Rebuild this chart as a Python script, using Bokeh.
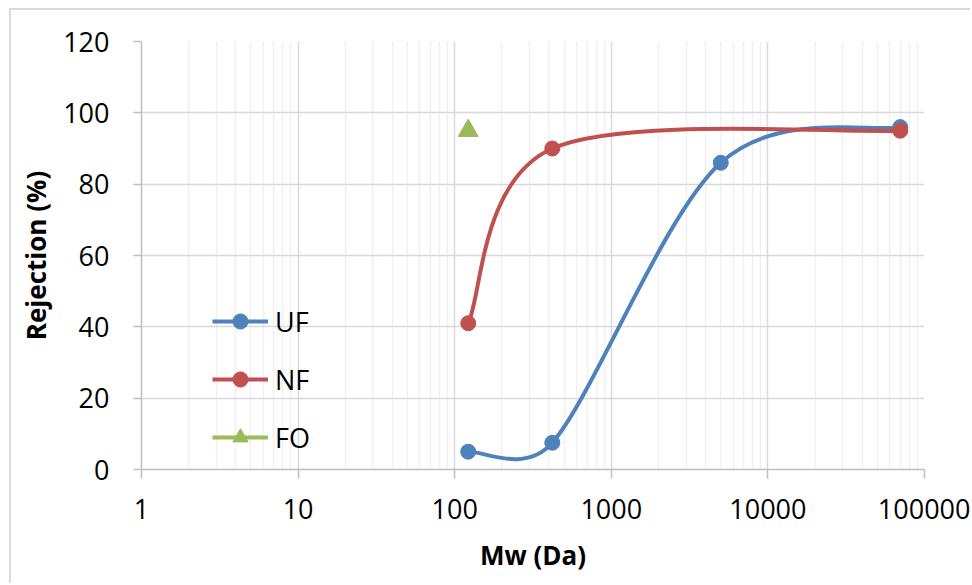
import numpy as np
from bokeh.plotting import figure
from bokeh.models import (ColumnDataSource, FixedTicker, Legend, LegendItem, Range1d)
from bokeh.embed import file_html
from bokeh.resources import INLINE

# ---- data ----
uf_mw = [122, 420, 5000, 70000]
uf_rej = [5, 7.5, 86, 96]
nf_mw = [122, 420, 70000]
nf_rej = [41, 90, 95]
fo_mw = [122]
fo_rej = [95]

x_ticks = [1, 10, 100, 1000, 10000, 100000]
x_tick_labels = ["1", "10", "100", "1000", "10000", "100000"]
y_ticks = [0, 20, 40, 60, 80, 100, 120]

C_UF = "#4f81bd"
C_NF = "#c0504d"
C_FO = "#9bbb59"
FONT = "Open Sans"

# approximate screen scale of the plot frame (for Excel-like arm clamping)
PX_PER_DECADE = 156.7
PX_PER_UNIT = 3.567


def smooth_source(xs, ys):
    """Excel-like smoothed line: cubic Bezier control points (Catmull-Rom, 1/6,
    arm limited to half the segment) computed in log-x / linear-y space."""
    lx = np.log10(np.asarray(xs, dtype=float))
    y = np.asarray(ys, dtype=float)
    n = len(lx)

    def dist(i, j):
        return np.hypot((lx[j] - lx[i]) * PX_PER_DECADE, (y[j] - y[i]) * PX_PER_UNIT)

    d = dict(x0=[], y0=[], x1=[], y1=[], cx0=[], cy0=[], cx1=[], cy1=[])
    for i in range(n - 1):
        a = i - 1 if i > 0 else i
        b = i + 2 if i + 2 < n else i + 1
        seg = dist(i, i + 1)
        f1 = 1 / 6
        arm1 = dist(a, i + 1) / 6
        if arm1 > seg / 2:
            f1 = f1 * (seg / 2) / arm1
        f2 = 1 / 6
        arm2 = dist(i, b) / 6
        if arm2 > seg / 2:
            f2 = f2 * (seg / 2) / arm2
        c1x = lx[i] + (lx[i + 1] - lx[a]) * f1
        c1y = y[i] + (y[i + 1] - y[a]) * f1
        c2x = lx[i + 1] - (lx[b] - lx[i]) * f2
        c2y = y[i + 1] - (y[b] - y[i]) * f2
        d["x0"].append(10 ** lx[i]); d["y0"].append(y[i])
        d["x1"].append(10 ** lx[i + 1]); d["y1"].append(y[i + 1])
        d["cx0"].append(10 ** c1x); d["cy0"].append(c1y)
        d["cx1"].append(10 ** c2x); d["cy1"].append(c2y)
    return ColumnDataSource(d)


p = figure(width=961, height=575, x_axis_type="log",
           x_range=Range1d(1, 100000), y_range=Range1d(0, 120),
           output_backend="svg", toolbar_location=None,
           min_border_left=130, min_border_right=48,
           min_border_top=31, min_border_bottom=116)
p.outline_line_color = None
p.background_fill_color = "white"
p.border_fill_color = "white"
# chart-area border (left and top edges), as in the reference
p.styles = {"margin-left": "9px", "margin-top": "8px",
            "border-left": "2px solid #d9d9d9", "border-top": "2px solid #d9d9d9"}

minor = [m * 10 ** k for k in range(0, 5) for m in range(2, 10)]
p.xaxis.ticker = FixedTicker(ticks=x_ticks, minor_ticks=minor)
p.xaxis.major_label_overrides = {float(t): l for t, l in zip(x_ticks, x_tick_labels)}
p.yaxis.ticker = FixedTicker(ticks=y_ticks)

for ax in (p.xaxis[0], p.yaxis[0]):
    ax.axis_line_color = "#bfbfbf"
    ax.axis_line_width = 1.5
    ax.major_tick_line_color = "#bfbfbf"
    ax.major_tick_line_width = 1.5
    ax.major_tick_in = 0
    ax.minor_tick_line_color = None
    ax.major_label_text_font = FONT
    ax.major_label_text_font_size = "27px"
    ax.major_label_text_color = "black"
    ax.axis_label_text_font = FONT
    ax.axis_label_text_font_size = "26px"
    ax.axis_label_text_font_style = "bold"
    ax.axis_label_text_color = "black"

p.xaxis.major_tick_out = 9
p.yaxis.major_tick_out = 8
p.xaxis.major_label_standoff = 20
p.yaxis.major_label_standoff = 24
p.xaxis.axis_label = "Mw (Da)"
p.yaxis.axis_label = "Rejection (%)"
p.xaxis.axis_label_standoff = 15
p.yaxis.axis_label_standoff = 6

p.xgrid.grid_line_color = "#d9d9d9"
p.xgrid.grid_line_width = 1.5
p.xgrid.minor_grid_line_color = "#f0f0f0"
p.xgrid.minor_grid_line_width = 1.5
p.ygrid.grid_line_color = "#d9d9d9"
p.ygrid.grid_line_width = 1.5

# smoothed lines
p.bezier(source=smooth_source(uf_mw, uf_rej), x0="x0", y0="y0", x1="x1", y1="y1",
         cx0="cx0", cy0="cy0", cx1="cx1", cy1="cy1", line_color=C_UF, line_width=4)
p.bezier(source=smooth_source(nf_mw, nf_rej), x0="x0", y0="y0", x1="x1", y1="y1",
         cx0="cx0", cy0="cy0", cx1="cx1", cy1="cy1", line_color=C_NF, line_width=4)

uf_pts = p.scatter(uf_mw, uf_rej, marker="circle", size=15, fill_color=C_UF, line_color=C_UF)
nf_pts = p.scatter(nf_mw, nf_rej, marker="circle", size=15, fill_color=C_NF, line_color=C_NF)
fo_pts = p.scatter(fo_mw, fo_rej, marker="triangle", size=20, fill_color=C_FO, line_color=C_FO)

# legend line samples (a single NaN point: nothing drawn in the plot)
uf_leg = p.line(x=[1.0], y=[np.nan], line_color=C_UF, line_width=4)
nf_leg = p.line(x=[1.0], y=[np.nan], line_color=C_NF, line_width=4)
fo_leg = p.line(x=[1.0], y=[np.nan], line_color=C_FO, line_width=4)

legend = Legend(items=[
    LegendItem(label="UF", renderers=[uf_leg, uf_pts]),
    LegendItem(label="NF", renderers=[nf_leg, nf_pts]),
    LegendItem(label="FO", renderers=[fo_leg, fo_pts]),
], location=(71, 13))
legend.border_line_color = None
legend.background_fill_alpha = 0
legend.padding = 0
legend.margin = 0
legend.glyph_width = 56
legend.glyph_height = 38
legend.spacing = 20
legend.label_standoff = 7
legend.label_text_font = FONT
legend.label_text_font_size = "27px"
legend.label_text_color = "black"
legend.label_height = 38
p.add_layout(legend)

open("out.html", "w").write(file_html(p, INLINE))
